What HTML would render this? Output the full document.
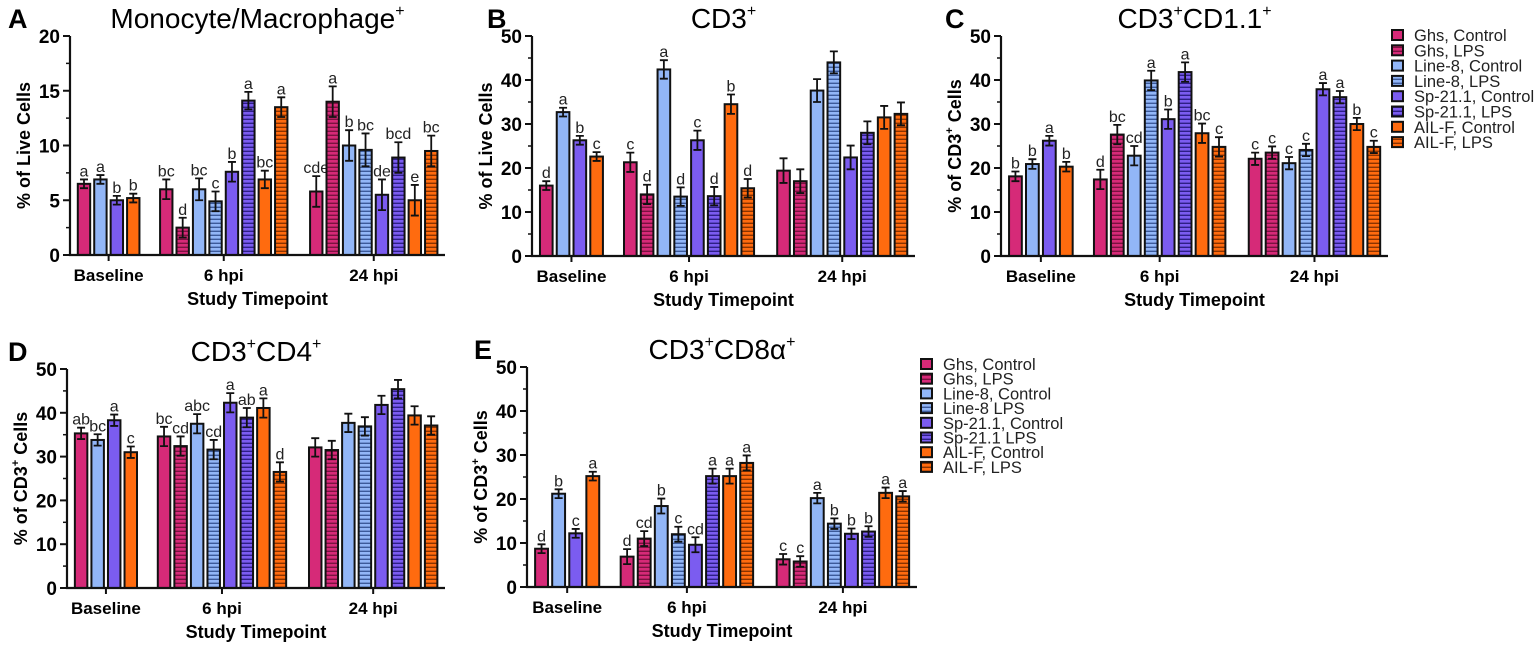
<!DOCTYPE html>
<html><head><meta charset="utf-8">
<style>
html,body{margin:0;padding:0;background:#fff;}
svg{display:block;font-family:"Liberation Sans",Arial,sans-serif;}
</style></head>
<body>
<svg id="fig" width="1535" height="648" viewBox="0 0 1535 648" xmlns="http://www.w3.org/2000/svg">
<defs>
<pattern id="hGhs" width="4" height="4" patternUnits="userSpaceOnUse"><rect width="4" height="4" fill="#d62a78"/><rect y="2.6" width="4" height="1.4" fill="#7a1240"/></pattern>
<pattern id="hL8" width="4" height="4" patternUnits="userSpaceOnUse"><rect width="4" height="4" fill="#92b6f7"/><rect y="2.6" width="4" height="1.4" fill="#3c5a9a"/></pattern>
<pattern id="hSp" width="4" height="4" patternUnits="userSpaceOnUse"><rect width="4" height="4" fill="#7b5cf0"/><rect y="2.6" width="4" height="1.4" fill="#2e1f86"/></pattern>
<pattern id="hAIL" width="4" height="4" patternUnits="userSpaceOnUse"><rect width="4" height="4" fill="#ff6b0f"/><rect y="2.6" width="4" height="1.4" fill="#8a3300"/></pattern>
</defs>
</svg>
<script>
// ---- data ----
const groups = ["Baseline", "6 hpi", "24 hpi"];
const seriesNames = ["Ghs, Control","Ghs, LPS","Line-8, Control","Line-8, LPS","Sp-21.1, Control","Sp-21.1, LPS","AIL-F, Control","AIL-F, LPS"];
const legendNamesE = ["Ghs, Control","Ghs, LPS","Line-8, Control","Line-8 LPS","Sp-21.1, Control","Sp-21.1 LPS","AIL-F, Control","AIL-F, LPS"];
const baselineSeries = [0, 2, 4, 6];

const aBase = [6.5, 6.9, 5.0, 5.2];
const aBaseErr = [0.4, 0.4, 0.4, 0.4];
const aBaseLet = ["a","a","b","b"];
const a6 = [6.0, 2.5, 6.0, 4.9, 7.6, 14.1, 6.9, 13.5];
const a6Err = [0.9, 0.9, 1.0, 0.9, 0.9, 0.8, 0.8, 0.9];
const a6Let = ["bc","d","bc","c","b","a","bc","a"];
const a24 = [5.8, 14.0, 10.0, 9.6, 5.5, 8.9, 5.0, 9.5];
const a24Err = [1.4, 1.4, 1.4, 1.5, 1.4, 1.4, 1.4, 1.4];
const a24Let = ["cde","a","b","bc","de","bcd","e","bc"];

const bBase = [16.0, 32.7, 26.3, 22.6];
const bBaseErr = [1.0, 1.0, 1.0, 1.0];
const bBaseLet = ["d","a","b","c"];
const b6 = [21.3, 14.0, 42.4, 13.5, 26.3, 13.6, 34.5, 15.4];
const b6Err = [2.2, 2.2, 2.1, 2.1, 2.2, 2.1, 2.2, 2.1];
const b6Let = ["c","d","a","d","c","d","b","d"];
const b24 = [19.4, 17.0, 37.6, 44.0, 22.4, 28.0, 31.5, 32.3];
const b24Err = [2.8, 2.7, 2.6, 2.5, 2.7, 2.6, 2.6, 2.6];
const b24Let = ["","","","","","","",""];

const cBase = [18.1, 20.9, 26.2, 20.3];
const cBaseErr = [1.1, 1.1, 1.1, 1.1];
const cBaseLet = ["b","b","a","b"];
const c6 = [17.4, 27.6, 22.8, 39.9, 31.1, 41.8, 27.9, 24.8];
const c6Err = [2.2, 2.2, 2.2, 2.2, 2.2, 2.2, 2.2, 2.2];
const c6Let = ["d","bc","cd","a","b","a","bc","c"];
const c24 = [22.1, 23.5, 21.1, 24.1, 37.9, 36.1, 30.0, 24.8];
const c24Err = [1.4, 1.4, 1.4, 1.4, 1.4, 1.4, 1.4, 1.4];
const c24Let = ["c","c","c","c","a","a","b","c"];

const dBase = [35.3, 33.8, 38.3, 31.0];
const dBaseErr = [1.3, 1.3, 1.3, 1.3];
const dBaseLet = ["ab","bc","a","c"];
const d6 = [34.6, 32.4, 37.5, 31.6, 42.3, 38.9, 41.1, 26.5];
const d6Err = [2.2, 2.2, 2.2, 2.2, 2.2, 2.2, 2.2, 2.2];
const d6Let = ["bc","cd","abc","cd","a","ab","a","d"];
const d24 = [32.1, 31.5, 37.7, 36.9, 41.8, 45.4, 39.4, 37.1];
const d24Err = [2.1, 2.1, 2.1, 2.1, 2.1, 2.1, 2.1, 2.1];
const d24Let = ["","","","","","","",""];

const eBase = [8.7, 21.2, 12.2, 25.2];
const eBaseErr = [1.0, 1.0, 1.0, 1.0];
const eBaseLet = ["d","b","c","a"];
const e6 = [6.9, 11.0, 18.4, 12.0, 9.6, 25.2, 25.2, 28.2];
const e6Err = [1.7, 1.7, 1.7, 1.7, 1.7, 1.7, 1.7, 1.7];
const e6Let = ["d","cd","b","c","cd","a","a","a"];
const e24 = [6.3, 5.8, 20.2, 14.4, 12.1, 12.6, 21.4, 20.6];
const e24Err = [1.2, 1.2, 1.2, 1.2, 1.2, 1.2, 1.2, 1.2];
const e24Let = ["c","c","a","b","b","b","a","a"];

const ticksA = [0, 5, 10, 15, 20];
const ticks50 = [0, 10, 20, 30, 40, 50];

// ---- drawing ----
const NS = "http://www.w3.org/2000/svg";
const svg = document.getElementById("fig");
const solid = ["#d62a78","#d62a78","#92b6f7","#92b6f7","#7b5cf0","#7b5cf0","#ff6b0f","#ff6b0f"];
const hatch = [null,"url(#hGhs)",null,"url(#hL8)",null,"url(#hSp)",null,"url(#hAIL)"];
function fillOf(i){ return hatch[i] || solid[i]; }
function mk(tag, attrs, parent){
  const e = document.createElementNS(NS, tag);
  for (const k in attrs) e.setAttribute(k, attrs[k]);
  (parent || svg).appendChild(e);
  return e;
}

function panel(p){
  const g = mk("g", {});
  
  
  const W = p.x1 - p.x0;
  const yScale = v => p.y0 - (v / p.max) * (p.y0 - p.yTop);
  const centers = [0.103, 0.41, 0.81];
  const slot = 0.0438 * W, bw = 0.033 * W;
  const L = mk("text", {x:p.letterX, y:p.yTop-8, "font-size":27, "font-weight":"bold"}, g); L.textContent = p.letter;
  
  
  const T = mk("text", {x:(p.x0+p.x1)/2, y:p.yTop-8, "font-size":28, "text-anchor":"middle"}, g);
  
  
  p.title.forEach(part => { const ts = mk("tspan", part[1] ? {"font-size":16, dy:-12} : {"font-size":28, dy: part[2]||0}, T); ts.textContent = part[0]; });
  const yl = mk("text", {transform:`translate(${p.x0-40},${(p.y0+p.yTop)/2}) rotate(-90)`, "font-size":18, "font-weight":"bold", "text-anchor":"middle"}, g);
  
  
  p.ylab.forEach(part => { const ts = mk("tspan", part[1] ? {"font-size":11, dy:-8} : {dy: part[2]||0}, yl); ts.textContent = part[0]; });
  const sets = [[p.base,p.baseErr,p.baseLet,baselineSeries],[p.s6,p.s6Err,p.s6Let,[0,1,2,3,4,5,6,7]],[p.s24,p.s24Err,p.s24Let,[0,1,2,3,4,5,6,7]]];
  sets.forEach((set, gi) => {
    const vals = set[0], errs = set[1], lets = set[2], ser = set[3];
    const cx0 = p.x0 + centers[gi]*W - (vals.length-1)/2*slot;
    vals.forEach((v, i) => {
      const cx = cx0 + i*slot, top = yScale(v);
      const r = mk("rect", {x:cx-bw/2, y:top, width:bw, height:p.y0-top, fill:fillOf(ser[i]), stroke:"#111", "stroke-width":2}, g);
      
      
      const eh = yScale(v + errs[i]), el = yScale(v - errs[i]);
      const eb = mk("path", {d:`M${cx},${eh}V${el}M${cx-4},${eh}H${cx+4}M${cx-4},${el}H${cx+4}`, stroke:"#111", "stroke-width":1.8, fill:"none"}, g);
      
      
      if (lets[i]) {
        const t = mk("text", {x:cx, y:eh-3, "font-size":16, "text-anchor":"middle", fill:"#222"}, g);
        t.textContent = lets[i];
        
        
      }
    });
    const tk = p.x0 + centers[gi]*W;
    mk("line", {x1:tk, x2:tk, y1:p.y0, y2:p.y0+6, stroke:"#111", "stroke-width":2}, g);
    const gl = mk("text", {x:tk, y:p.y0+26, "font-size":17, "font-weight":"bold", "text-anchor":"middle"}, g);
    gl.textContent = groups[gi];
    
    
  });
  const ax = mk("path", {d:`M${p.x0},${p.yTop}V${p.y0}H${p.x1}`, stroke:"#111", "stroke-width":2.2, fill:"none"}, g);
  
  
  const ticks = p.ticks;
  const step = ticks[1]-ticks[0];
  for (let k=0;k<ticks.length;k++){
    const y = yScale(ticks[k]);
    mk("line", {x1:p.x0-7, x2:p.x0, y1:y, y2:y, stroke:"#111", "stroke-width":2}, g);
    const tl = mk("text", {x:p.x0-10, y:y+7, "font-size":19, "font-weight":"bold", "text-anchor":"end"}, g);
    tl.textContent = ticks[k];
    
    
    if (k < ticks.length-1){
      const ym = yScale(ticks[k]+step/2);
      mk("line", {x1:p.x0-4, x2:p.x0, y1:ym, y2:ym, stroke:"#111", "stroke-width":1.5}, g);
    }
  }
  const xt = mk("text", {x:(p.x0+p.x1)/2, y:p.y0+50, "font-size":18, "font-weight":"bold", "text-anchor":"middle"}, g);
  xt.textContent = "Study Timepoint";
  
  
}

function legend(x, y, sp, names){
  const g = mk("g", {});
  
  
  names.forEach((n, i) => {
    const cy = y + i*sp;
    const r = mk("rect", {x:x, y:cy-5, width:11, height:10, fill:fillOf(i), stroke:"#111", "stroke-width":2}, g);
    
    
    const t = mk("text", {x:x+22, y:cy+6, "font-size":16.5, fill:"#222"}, g);
    t.textContent = n;
    
    
  });
}

panel({name:"panel-a-monocyte", letter:"A", letterX:8, x0:70, x1:445, yTop:36, y0:255, max:20, ticks:ticksA,
  title:[["Monocyte/Macrophage"],["+",1]], ylab:[["% of Live Cells"]],
  base:aBase, baseErr:aBaseErr, baseLet:aBaseLet, s6:a6, s6Err:a6Err, s6Let:a6Let, s24:a24, s24Err:a24Err, s24Let:a24Let});
panel({name:"panel-b-cd3", letter:"B", letterX:487, x0:532, x1:915, yTop:36, y0:256, max:50, ticks:ticks50,
  title:[["CD3"],["+",1]], ylab:[["% of Live Cells"]],
  base:bBase, baseErr:bBaseErr, baseLet:bBaseLet, s6:b6, s6Err:b6Err, s6Let:b6Let, s24:b24, s24Err:b24Err, s24Let:b24Let});
panel({name:"panel-c-cd3-cd1", letter:"C", letterX:945, x0:1001, x1:1388, yTop:36, y0:256, max:50, ticks:ticks50,
  title:[["CD3"],["+",1],["CD1.1",0,12],["+",1]], ylab:[["% of CD3"],["+",1],[" Cells",0,8]],
  base:cBase, baseErr:cBaseErr, baseLet:cBaseLet, s6:c6, s6Err:c6Err, s6Let:c6Let, s24:c24, s24Err:c24Err, s24Let:c24Let});
panel({name:"panel-d-cd3-cd4", letter:"D", letterX:8, x0:67, x1:445, yTop:369, y0:588, max:50, ticks:ticks50,
  title:[["CD3"],["+",1],["CD4",0,12],["+",1]], ylab:[["% of CD3"],["+",1],[" Cells",0,8]],
  base:dBase, baseErr:dBaseErr, baseLet:dBaseLet, s6:d6, s6Err:d6Err, s6Let:d6Let, s24:d24, s24Err:d24Err, s24Let:d24Let});
panel({name:"panel-e-cd3-cd8", letter:"E", letterX:474, x0:527, x1:917, yTop:367, y0:587, max:50, ticks:ticks50,
  title:[["CD3"],["+",1],["CD8α",0,12],["+",1]], ylab:[["% of CD3"],["+",1],[" Cells",0,8]],
  base:eBase, baseErr:eBaseErr, baseLet:eBaseLet, s6:e6, s6Err:e6Err, s6Let:e6Let, s24:e24, s24Err:e24Err, s24Let:e24Let});

legend(1392, 35, 15.3, seriesNames);
legend(921, 364, 14.7, legendNamesE);
</script>
</body></html>
